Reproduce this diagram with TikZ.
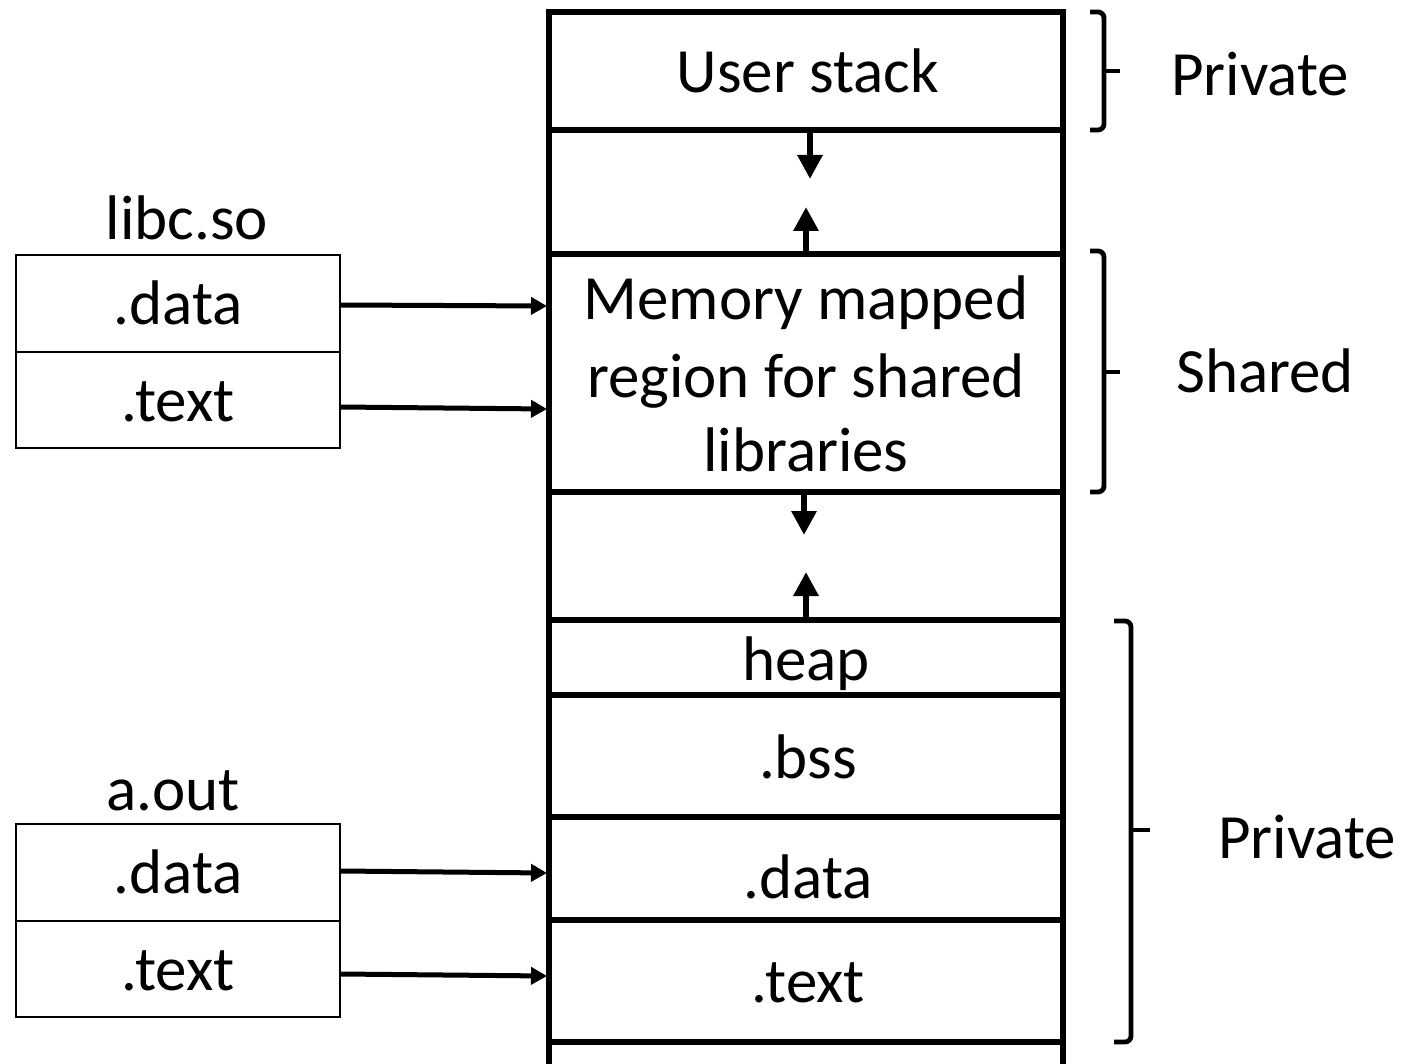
\documentclass[tikz,border=0pt]{standalone}
\usepackage{fontspec}
\setmainfont{Carlito}
\usetikzlibrary{arrows.meta}
\newcommand\diagfont{\fontsize{31.5}{38.5}\selectfont}
\begin{document}
\begin{tikzpicture}[x=0.5pt,y=-0.5pt,
  every node/.style={inner sep=0pt, font=\diagfont},
  lbl/.style={anchor=base},
  colline/.style={line width=2.6pt},
  filebox/.style={line width=1pt},
  growarrow/.style={line width=3pt, -{Triangle[length=12pt,width=12pt]}},
  maparrow/.style={line width=2.5pt, -{Triangle[length=8pt,width=8.5pt]}},
  bracket/.style={line width=2.4pt, rounded corners=3pt},
  bracktick/.style={line width=2.4pt}]
\useasboundingbox (0,0) rectangle (1404,1064);

% address-space column
\draw[colline] (549,1064) -- (549,12) -- (1063,12) -- (1063,1064);
\foreach \y in {130,254,492,620,695,817,920,1042}
  \draw[colline] (549,\y) -- (1063,\y);

\node[lbl] (ustack) at (808,93) {User stack};
\node[lbl] (mm1) at (806,320) {Memory mapped};
\node[lbl] (mm2) at (806,398) {region for shared};
\node[lbl] (mm3) at (806,472) {libraries};
\node[lbl] (heap) at (806,680) {heap};
\node[lbl] (bss) at (808,778) {.bss};
\node[lbl] (cdata) at (808,898) {.data};
\node[lbl] (ctext) at (808,1002) {.text};

% growth arrows
\coordinate (g1a) at (810,130); \coordinate (g1b) at (810,179);
\coordinate (g2a) at (806,254); \coordinate (g2b) at (806,207);
\coordinate (g3a) at (804,492); \coordinate (g3b) at (804,535);
\coordinate (g4a) at (806,620); \coordinate (g4b) at (806,572);
\draw[growarrow] (g1a) -- (g1b);
\draw[growarrow] (g2a) -- (g2b);
\draw[growarrow] (g3a) -- (g3b);
\draw[growarrow] (g4a) -- (g4b);

% libc.so file
\node[lbl] (libc) at (187,240) {libc.so};
\draw[filebox] (16,255) rectangle (340,448);
\draw[filebox] (16,352) -- (340,352);
\node[lbl] (ldata) at (178,325) {.data};
\node[lbl] (ltext) at (178,422) {.text};

% a.out file
\node[lbl] (aout) at (173,810) {a.out};
\draw[filebox] (16,824) rectangle (340,1017);
\draw[filebox] (16,921) -- (340,921);
\node[lbl] (adata) at (178,893) {.data};
\node[lbl] (atext) at (178,990) {.text};

% mapping arrows
\coordinate (ld0) at (340,305); \coordinate (ld1) at (547,306);
\coordinate (lt0) at (340,407); \coordinate (lt1) at (547,409);
\coordinate (ad0) at (340,871); \coordinate (ad1) at (547,873);
\coordinate (at0) at (340,974); \coordinate (at1) at (547,976);
\draw[maparrow] (ld0) -- (ld1);
\draw[maparrow] (lt0) -- (lt1);
\draw[maparrow] (ad0) -- (ad1);
\draw[maparrow] (at0) -- (at1);

% brackets
\draw[bracket] (1090,12) -- (1104,12) -- (1104,130) -- (1090,130);
\draw[bracktick] (1104,71) -- (1120,71);
\node[lbl] (priv1) at (1260,96) {Private};

\draw[bracket] (1090,251) -- (1104,251) -- (1104,492) -- (1090,492);
\draw[bracktick] (1104,372) -- (1120,372);
\node[lbl] (shared) at (1265,393) {Shared};

\draw[bracket] (1114,621) -- (1131,621) -- (1131,1042) -- (1114,1042);
\draw[bracktick] (1131,830) -- (1150,830);
\node[lbl] (priv2) at (1307,858) {Private};
\end{tikzpicture}
\end{document}
